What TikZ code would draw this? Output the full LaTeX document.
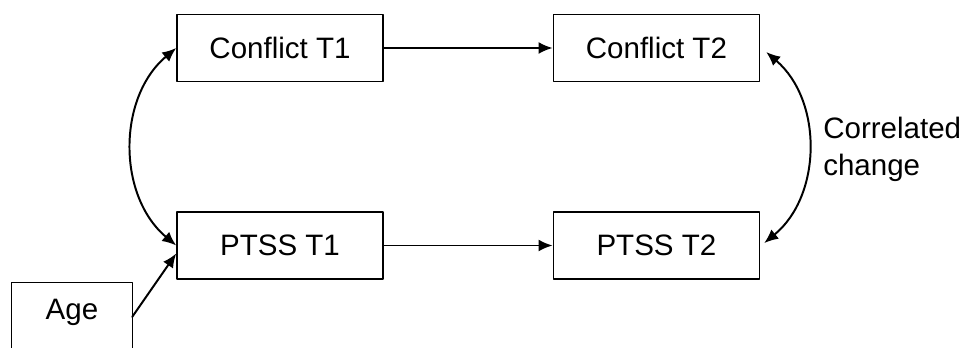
\documentclass[tikz,border=0pt]{standalone}
\usepackage{fontspec}
\setmainfont{Liberation Sans}
\usetikzlibrary{arrows.meta}
\begin{document}
\begin{tikzpicture}[line cap=round,line join=round,>={Latex[length=10pt,width=8.5pt]},
  box/.style={draw,line width=1.1pt,minimum width=5.15cm,minimum height=1.68cm,inner sep=0pt},
  link/.style={line width=1.4pt,->},
  font=\fontsize{21}{26.2}\selectfont]
  \clip (0,0) rectangle (24.45,8.7);
  \node[box] (c1) at (7.0,7.5) {Conflict T1};
  \node[box] (c2) at (16.41,7.5) {Conflict T2};
  \node[box] (p1) at (7.0,2.5625) {PTSS T1};
  \node[box] (p2) at (16.41,2.5625) {PTSS T2};
  % the age box runs off the bottom edge
  \node[minimum width=3cm,minimum height=1.49cm,inner sep=0pt] (age) at (1.8,0.88) {Age};
  \draw[line width=1.1pt] ([yshift=-1cm]age.south west) -- (age.north west)
    -- (age.north east) -- ([yshift=-1cm]age.south east);
  \draw[link] (c1) -- (c2);
  \draw[link] (p1) -- (p2);
  \draw[link] ([yshift=-0.1cm]age.east) -- ([yshift=-0.2cm]p1.west);
  \draw[link,<->] (c1.west) to[bend right=50] (p1.west);
  \coordinate (c2r) at ([shift={(0.15,-0.1)}]c2.east);
  \coordinate (p2r) at ([shift={(0.1,0.06)}]p2.east);
  \draw[link,<->] (c2r) to[bend left=50] (p2r);
  \node[anchor=west,align=left,inner sep=0pt] (corr) at (20.575,4.975) {Correlated\\change};
\end{tikzpicture}
\end{document}
